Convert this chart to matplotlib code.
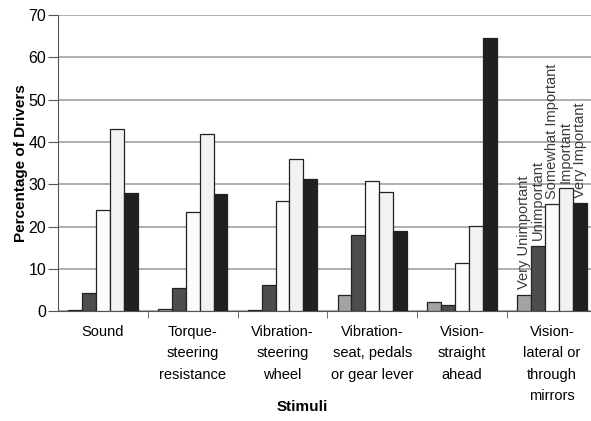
import numpy as np
import matplotlib
matplotlib.use('Agg')
import matplotlib.pyplot as plt

plt.rcParams['font.family'] = ['Liberation Sans', 'DejaVu Sans']

# Dados
categorias = ['Sound', 'Torque-\nsteering\nresistance', 'Vibration-\nsteering\nwheel',
              'Vibration-\nseat, pedals\nor gear lever', 'Vision-\nstraight\nahead',
              'Vision-\nlateral or\nthrough\nmirrors']
series = ['Very Unimportant', 'Unimportant', 'Somewhat Important', 'Important', 'Very Important']
very_unimportant = [0.3, 0.5, 0.3, 3.9, 2.2, 3.9]
unimportant = [4.2, 5.4, 6.1, 18.1, 1.4, 15.5]
somewhat_important = [23.8, 23.5, 26.0, 30.7, 11.3, 25.3]
important = [43.1, 41.9, 35.9, 28.2, 20.1, 29.1]
very_important = [27.9, 27.7, 31.3, 18.9, 64.5, 25.5]
valores = [very_unimportant, unimportant, somewhat_important, important, very_important]
cores = ['#a3a3a3', '#4d4d4d', '#fcfcfc', '#f2f2f2', '#202020']

fig = plt.figure(figsize=(5.91, 4.21), dpi=100)
ax = fig.add_axes([0.098, 0.261, 0.912, 0.703])

x = np.arange(len(categorias))
largura = 0.155
for i, (nome, vals, cor) in enumerate(zip(series, valores, cores)):
    pos = x + (i - 2) * largura
    ax.bar(pos, vals, largura, color=cor, edgecolor='#222222', linewidth=0.9, zorder=3)
    # rótulo da série acima da última categoria
    ax.text(pos[-1], vals[-1] + 1.3, nome, rotation=90, ha='center', va='bottom',
            fontsize=10.5, color='#3a3a3a', zorder=4)

ax.set_xlim(-0.5, len(categorias) - 0.5)
ax.set_ylim(0, 70)
ax.set_yticks(range(0, 71, 10))
ax.yaxis.grid(True, color='#999999', linewidth=1.1, zorder=0)
ax.set_axisbelow(True)

ax.set_xticks(x)
ax.set_xticklabels(categorias, fontsize=10.5, linespacing=1.68)
ax.set_xticks(np.arange(0.5, len(categorias) - 0.5, 1), minor=True)
ax.tick_params(axis='x', which='major', length=0, pad=10)
ax.tick_params(axis='x', which='minor', length=5, color='#555555', direction='out')
ax.tick_params(axis='y', length=7, color='#555555', labelsize=11.5, pad=1.5)

for s in ['top', 'right']:
    ax.spines[s].set_visible(False)
ax.spines['left'].set_color('#555555')
ax.spines['bottom'].set_color('#555555')

ax.set_ylabel('Percentage of Drivers', fontsize=11, fontweight='bold')
ax.yaxis.set_label_coords(-0.056, 0.5)
fig.text(0.511, 0.033, 'Stimuli', ha='center', va='center', fontsize=11, fontweight='bold')

plt.savefig('out.png', dpi=100)
